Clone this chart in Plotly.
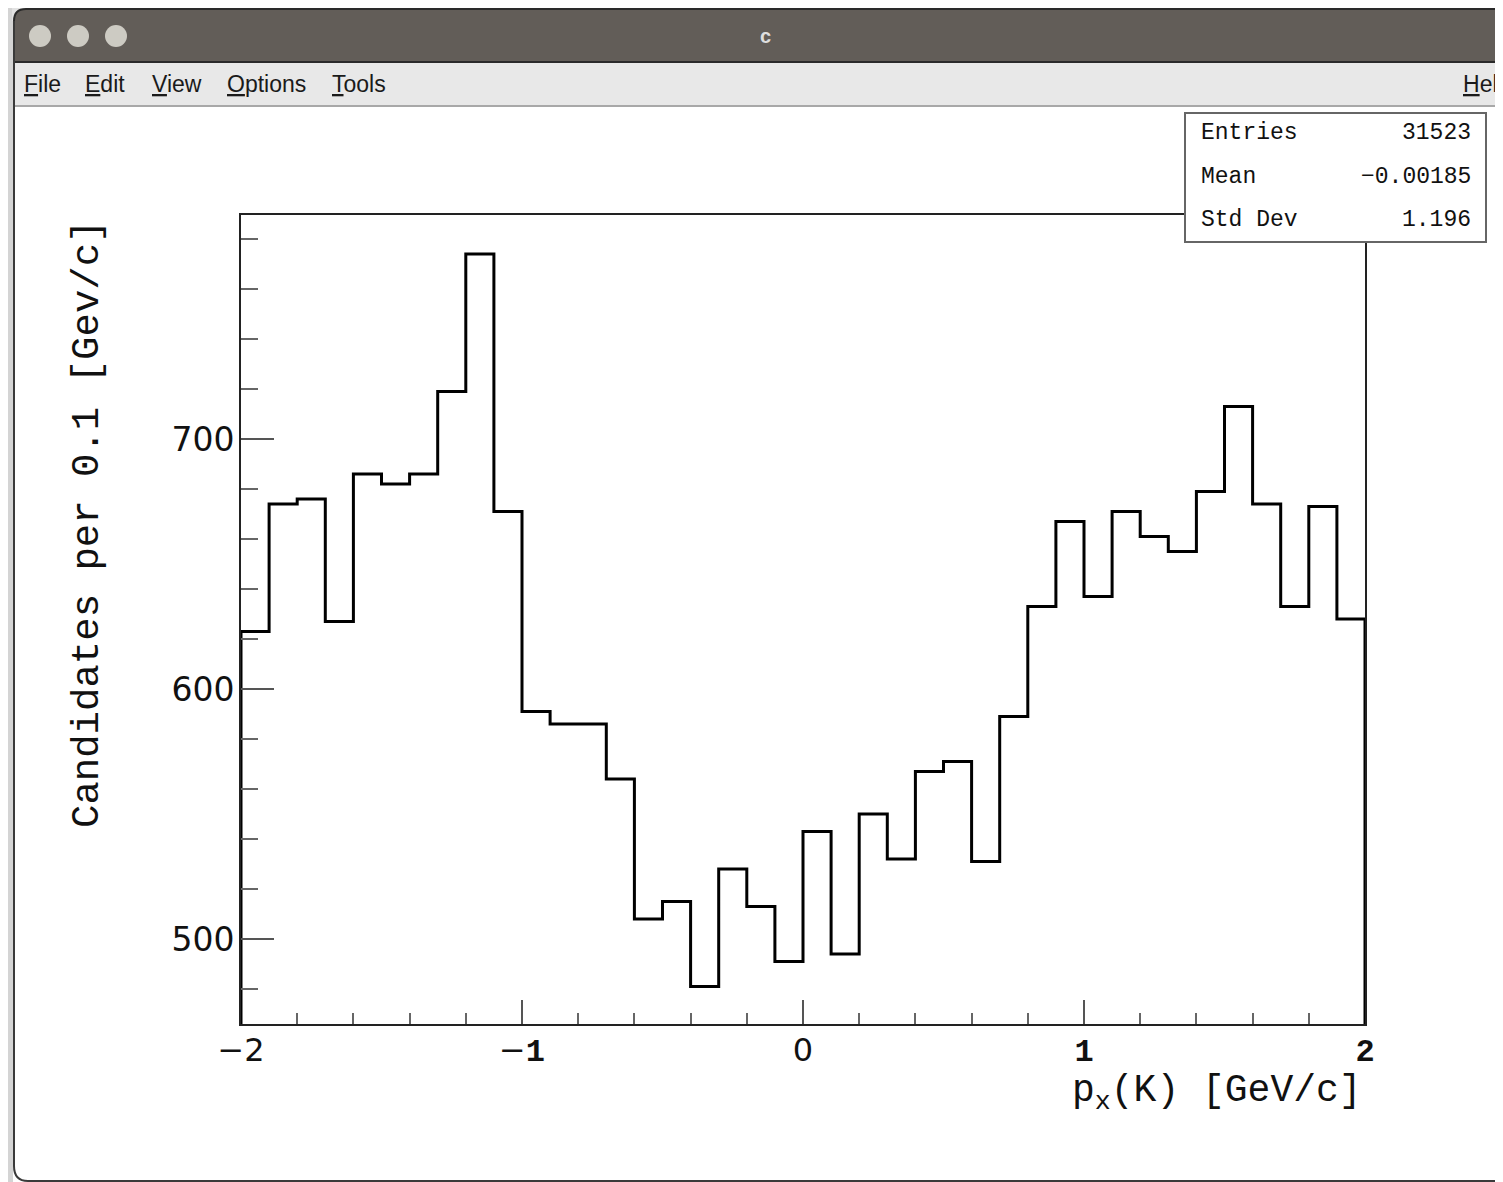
import plotly.graph_objects as go

# ---------------- data ----------------
bin_low = -2.0
bin_width = 0.1
counts = [623, 674, 676, 627, 686, 682, 686, 719, 774, 671,
          591, 586, 586, 564, 508, 515, 481, 528, 513, 491,
          543, 494, 550, 532, 567, 571, 531, 589, 633, 667,
          637, 671, 661, 655, 679, 713, 674, 633, 673, 628]
x_tick_vals = [-2, -1, 0, 1, 2]
x_tick_labels = ["\u22122", "\u22121", "0", "1", "2"]
y_tick_vals = [500, 600, 700]
stat_names = ["Entries", "Mean", "Std Dev"]
stat_values = ["31523", "\u22120.00185", "1.196"]
x_title = "p<sub>x</sub>(K) [GeV/c]"
y_title = "Candidates per 0.1 [Gev/c]"
menu_items = ["File", "Edit", "View", "Options", "Tools"]

# ---------------- geometry (reference pixel coords) ----------------
OFF = 8                     # page body margin
W, H = 1503, 1182
FW, FH = W - OFF, H - OFF   # figure size
PL, PR, PT, PB = 241, 1365, 215, 1024
YMIN, YMAX = 466.0, 789.6

def px(x):
    return (x - PL) / (PR - PL)

def py(y):
    return (PB - y) / (PB - PT)

# histogram outline from bin edges
edges = [bin_low + i * bin_width for i in range(len(counts) + 1)]
hx = [edges[0]] + edges[:-1] + [edges[-1], edges[-1]]
hy = [YMIN] + counts + [counts[-1], YMIN]

fig = go.Figure()
fig.add_trace(go.Scatter(x=hx, y=hy, mode="lines", line=dict(color="#000000", width=3, shape="hv"),
                         hoverinfo="skip", showlegend=False, cliponaxis=True))

MONO = "Liberation Mono"
SANS = "DejaVu Sans"

shapes = []
ann = []

def rect(x0, y0, x1, y1, fill, line=None, lw=0, layer="above"):
    shapes.append(dict(type="rect", xref="paper", yref="paper", x0=px(x0), x1=px(x1), y0=py(y1), y1=py(y0),
                       fillcolor=fill, line=dict(color=line or fill, width=lw), layer=layer))

def hline(x0, x1, y, color, lw=1):
    shapes.append(dict(type="line", xref="paper", yref="paper", x0=px(x0), x1=px(x1), y0=py(y), y1=py(y),
                       line=dict(color=color, width=lw), layer="above"))

# outside background (desktop)
rect(-20, -20, W + 20, 8, "#e6e6e6")
rect(-20, -20, 13, H + 20, "#d4d4d4")
# title bar
rect(14, 9, W + 20, 62, "#625d58")
hline(24, W + 20, 9, "#2a2a2a", 2)
hline(14, W + 20, 62, "#2a2a2a", 2)
# rounded top-left corner: mask outside the arc, then stroke the arc
shapes.append(dict(type="path", xref="paper", yref="paper",
                   path=f"M {px(12)},{py(7)} L {px(26)},{py(7)} L {px(26)},{py(9)} "
                        f"Q {px(14)},{py(9)} {px(14)},{py(21)} L {px(12)},{py(21)} Z",
                   fillcolor="#e2e2e2", line=dict(width=0), layer="above"))
shapes.append(dict(type="path", xref="paper", yref="paper",
                   path=f"M {px(26)},{py(9)} Q {px(14)},{py(9)} {px(14)},{py(21)}",
                   line=dict(color="#2a2a2a", width=2), layer="above"))
for cx in (40, 78, 116):
    shapes.append(dict(type="circle", xref="paper", yref="paper", x0=px(cx - 11), x1=px(cx + 11),
                       y0=py(36 + 11), y1=py(36 - 11), fillcolor="#cdcbc3", line=dict(width=0), layer="above"))
# menu bar
rect(14, 63, W + 20, 106, "#e8e8e8")
hline(14, W + 20, 106, "#a8a8a8", 2)
# window border (left side + bottom with rounded corner)
shapes.append(dict(type="path", xref="paper", yref="paper",
                   path=f"M {px(14)},{py(21)} L {px(14)},{py(1166)} Q {px(14)},{py(1181)} {px(28)},{py(1181)} L {px(W+20)},{py(1181)}",
                   line=dict(color="#3a3a3a", width=2), layer="above"))

ann.append(dict(x=px(765), y=py(36), xref="paper", yref="paper", text="<b>c</b>", showarrow=False,
                font=dict(family="Liberation Sans", size=20, color="#dedede"), xanchor="center", yanchor="middle"))

menu_x = [22, 83, 150, 225, 330]
for mx, name in zip(menu_x, menu_items):
    t = f'<span style="text-decoration:underline">{name[0]}</span>{name[1:]}'
    ann.append(dict(x=px(mx), y=py(84), xref="paper", yref="paper", text=t, showarrow=False,
                    font=dict(family="Liberation Sans", size=23, color="#1a1a1a"), xanchor="left", yanchor="middle"))
ann.append(dict(x=px(1461), y=py(84), xref="paper", yref="paper",
                text='<span style="text-decoration:underline">H</span>elp', showarrow=False,
                font=dict(family="Liberation Sans", size=23, color="#1a1a1a"), xanchor="left", yanchor="middle"))

# stats box
rect(1185, 113, 1486, 242, "#ffffff", "#666666", 2)
for i, (n, v) in enumerate(zip(stat_names, stat_values)):
    yy = 133 + i * 43.5
    ann.append(dict(x=px(1199), y=py(yy), xref="paper", yref="paper", text=n, showarrow=False,
                    font=dict(family=MONO, size=23, color="#111"), xanchor="left", yanchor="middle"))
    ann.append(dict(x=px(1473), y=py(yy), xref="paper", yref="paper", text=v, showarrow=False,
                    font=dict(family=MONO, size=23, color="#111"), xanchor="right", yanchor="middle"))

# axis titles
ann.append(dict(x=px(88), y=py(524), xref="paper", yref="paper", text=y_title, showarrow=False, textangle=-90,
                font=dict(family=MONO, size=39, color="#111"), xanchor="center", yanchor="middle"))
ann.append(dict(x=px(1364), y=py(1093), xref="paper", yref="paper", text=x_title, showarrow=False,
                font=dict(family=MONO, size=38, color="#111"), xanchor="right", yanchor="middle"))

# tick label fonts per label (as in the reference rendering)
tick_fonts = ["DejaVu Sans", MONO, "DejaVu Sans", MONO, MONO]
x_ticktext = []
for f, t in zip(tick_fonts, x_tick_labels):
    if f == MONO and t.startswith("\u2212"):
        x_ticktext.append(f'\u2212<span style="font-family:{f};font-weight:bold">{t[1:]}</span>')
    elif f == MONO:
        x_ticktext.append(f'<span style="font-family:{f};font-weight:bold">{t}</span>')
    else:
        x_ticktext.append(t)

fig.update_layout(
    width=FW, height=FH,
    margin=dict(l=PL - OFF, r=FW - (PR - OFF), t=PT - OFF, b=FH - (PB - OFF), pad=0),
    paper_bgcolor="#ffffff", plot_bgcolor="#ffffff",
    shapes=shapes, annotations=ann, showlegend=False,
    xaxis=dict(range=[-2, 2], tickmode="array", tickvals=x_tick_vals, ticktext=x_ticktext,
               ticks="inside", ticklen=24, tickwidth=2, tickcolor="#555",
               minor=dict(tickmode="linear", tick0=0, dtick=0.2, ticks="inside", ticklen=11, tickwidth=2, tickcolor="#666"),
               showgrid=False, zeroline=False, showline=True, linecolor="#222", linewidth=2, mirror=True,
               tickfont=dict(family=SANS, size=32, color="#111"), ticklabelstandoff=-3),
    yaxis=dict(range=[YMIN, YMAX], tickmode="array", tickvals=y_tick_vals,
               ticks="inside", ticklen=33, tickwidth=2, tickcolor="#555",
               minor=dict(tickmode="linear", tick0=0, dtick=20, ticks="inside", ticklen=17, tickwidth=2, tickcolor="#666"),
               showgrid=False, zeroline=False, showline=True, linecolor="#222", linewidth=2, mirror=True,
               tickfont=dict(family=SANS, size=33, color="#111"), ticklabelstandoff=-2),
)

fig.write_html("out.html")
